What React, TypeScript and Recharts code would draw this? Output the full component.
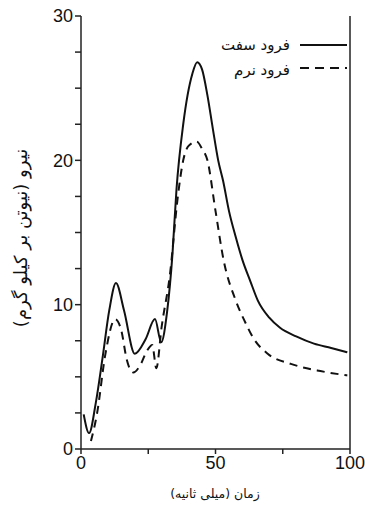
import React from 'react';
import { LineChart, Line, XAxis, YAxis, ReferenceLine } from 'recharts';

// Hard landing (solid)
const hardTime = [1, 3, 5.5, 8, 10.5, 13, 16, 20, 24, 27.5, 29.8, 32, 34, 35.5, 38, 41.4, 43.2, 45, 47, 49, 51, 52.8, 55, 57.5, 60, 63, 65.7, 70, 74, 80, 86.6, 93, 99];
const hardForce = [2.4, 1.1, 3.2, 6.3, 9.6, 11.5, 9.6, 6.6, 7.6, 9.0, 7.4, 9.5, 13.5, 18, 22.5, 26, 26.8, 26.3, 24.5, 22.2, 20, 18.6, 16.5, 14.7, 13.1, 11.6, 10.3, 9.1, 8.4, 7.8, 7.3, 7.0, 6.7];

// Soft landing (dashed)
const softTime = [3.7, 6, 9, 12.7, 15, 17, 19.4, 22, 24.5, 26.5, 28, 30, 33, 36, 38, 40, 43, 45, 47, 50, 53, 57.5, 61, 64, 69.4, 78, 89, 99];
const softForce = [0.55, 2.5, 6.5, 9.0, 8.2, 6.2, 5.3, 5.8, 6.8, 7.2, 5.6, 8.5, 12, 17.5, 20, 21, 21.3, 20.8, 20, 16.5, 13.1, 10.3, 8.8, 7.7, 6.6, 5.9, 5.4, 5.1];

const yTicks = [0, 2.5, 5, 7.5, 10, 12.5, 15, 17.5, 20, 22.5, 25, 27.5, 30];
const yLabels = [0, 10, 20, 30];
const xTicks = [0, 25, 50, 75, 100];
const xLabels = [0, 50, 100];

const seriesNames = ['فرود سفت', 'فرود نرم'];
const xTitle = 'زمان (میلی ثانیه)';
const yTitle = 'نیرو (نیوتن بر کیلو گرم)';

const hardData = hardTime.map((t, i) => ({ t, v: hardForce[i] }));
const softData = softTime.map((t, i) => ({ t, v: softForce[i] }));

const persianFont = '"DejaVu Sans", sans-serif';
const numFont = '"Liberation Sans", Arial, sans-serif';

const LegendBox = () => (
  <svg width={150} height={55} style={{ position: 'absolute', left: 208, top: 28 }}>
    <text x={82} y={17} textAnchor="end" dominantBaseline="middle" fontFamily={persianFont} fontSize={15} fill="#111">
      {seriesNames[0]}
    </text>
    <line x1={92} x2={139} y1={17} y2={17} stroke="#111" strokeWidth={2} />
    <text x={82} y={42} textAnchor="end" dominantBaseline="middle" fontFamily={persianFont} fontSize={15} fill="#111">
      {seriesNames[1]}
    </text>
    <line x1={92} x2={139} y1={40} y2={40} stroke="#111" strokeWidth={2} strokeDasharray="9 6" />
  </svg>
);

const YTitle = () => (
  <text
    transform="translate(22,238) rotate(-90)"
    textAnchor="middle"
    dominantBaseline="middle"
    fontFamily={persianFont}
    fontSize={18}
    fill="#111"
  >
    {yTitle}
  </text>
);

const XTitle = () => (
  <text
    x={215}
    y={494}
    textAnchor="middle"
    dominantBaseline="middle"
    fontFamily={persianFont}
    fontSize={12.5}
    fill="#111"
  >
    {xTitle}
  </text>
);

export default function App() {
  return (
    <div style={{ position: 'fixed', left: 0, top: 0, width: 365, height: 506, background: '#fff' }}>
      <LineChart width={365} height={506} margin={{ top: 16, right: 15, left: 18, bottom: 22 }}>
        <XAxis
          type="number"
          dataKey="t"
          domain={[0, 100]}
          ticks={xTicks}
          tickFormatter={(v: number) => (xLabels.includes(v) ? String(v) : '')}
          height={35}
          axisLine={{ stroke: '#222', strokeWidth: 1.5 }}
          tickLine={{ stroke: '#222', strokeWidth: 1.5 }}
          tickSize={5}
          tick={{ fill: '#111', fontSize: 18, fontFamily: numFont }}
          allowDuplicatedCategory={false}
          label={{ content: () => <XTitle /> }}
        />
        <YAxis
          type="number"
          domain={[0, 30]}
          ticks={yTicks}
          interval={0}
          tickFormatter={(v: number) => (yLabels.includes(v) ? String(v) : '')}
          width={63}
          axisLine={{ stroke: '#222', strokeWidth: 1.5 }}
          tickLine={{ stroke: '#222', strokeWidth: 1.5 }}
          tickSize={6}
          tick={{ fill: '#111', fontSize: 18, fontFamily: numFont }}
          label={{ content: () => <YTitle /> }}
        />
        <ReferenceLine x={100} stroke="#222" strokeWidth={1.5} />
        <Line
          data={hardData}
          dataKey="v"
          name={seriesNames[0]}
          type="monotone"
          stroke="#111"
          strokeWidth={2}
          dot={false}
          activeDot={false}
          isAnimationActive={false}
        />
        <Line
          data={softData}
          dataKey="v"
          name={seriesNames[1]}
          type="monotone"
          stroke="#111"
          strokeWidth={2}
          strokeDasharray="8 6"
          dot={false}
          activeDot={false}
          isAnimationActive={false}
        />
      </LineChart>
      <LegendBox />
    </div>
  );
}
